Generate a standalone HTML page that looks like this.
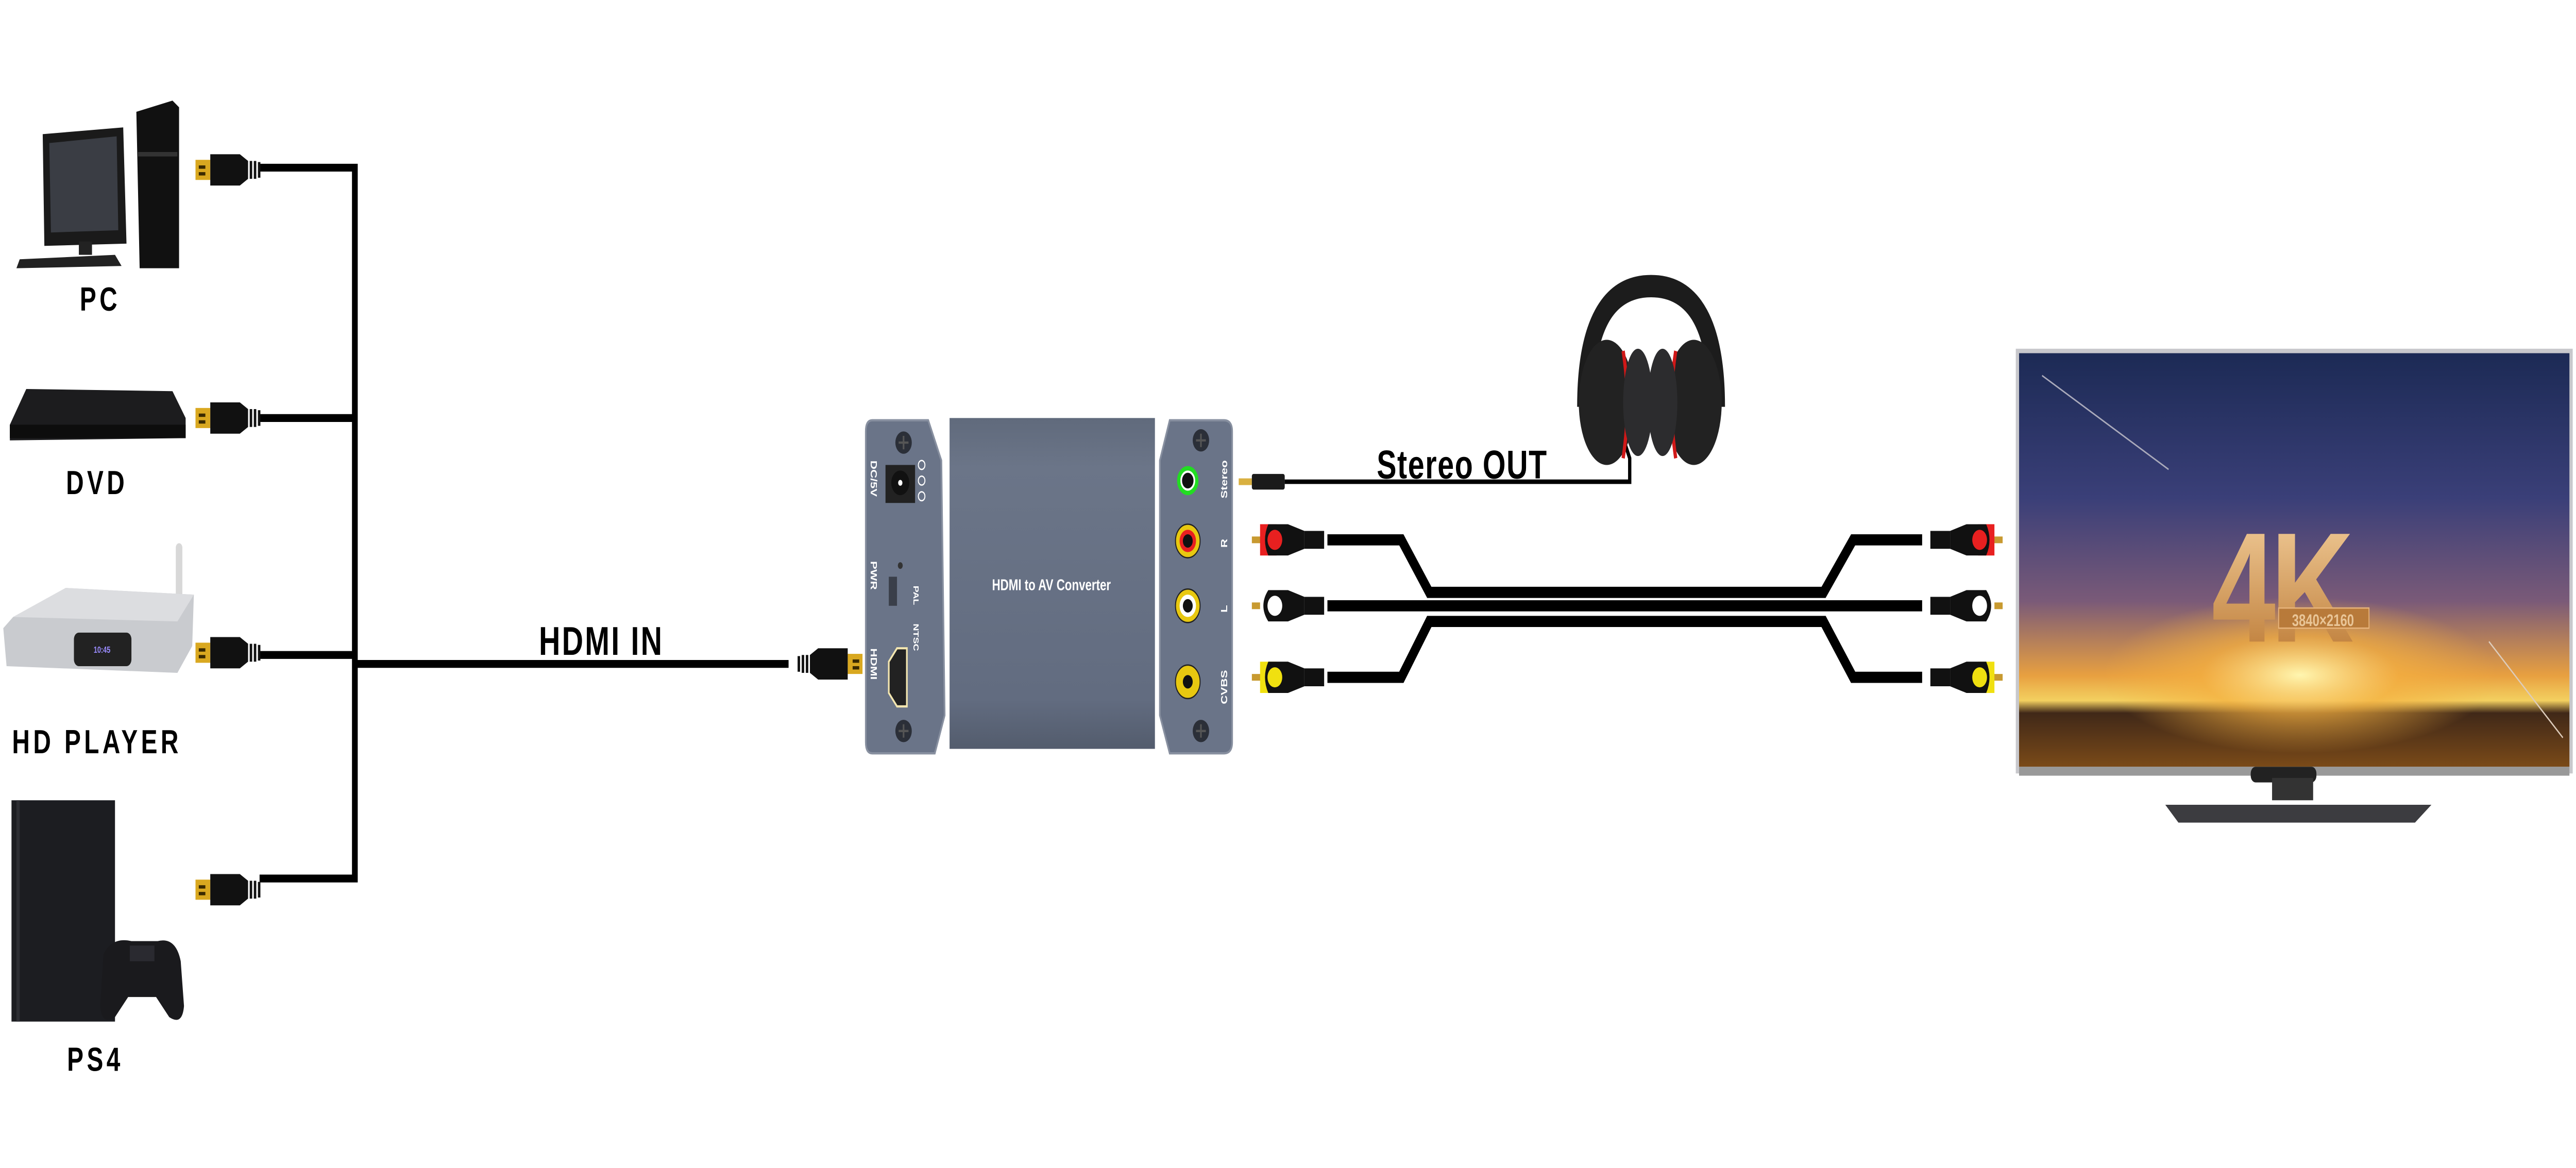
<!DOCTYPE html>
<html><head><meta charset="utf-8"><style>
html,body{margin:0;padding:0;background:#fff;width:100vw;height:100vh;overflow:hidden;}
svg{display:block;position:absolute;left:0;top:0;width:100vw;height:100vh;}
text{font-family:"Liberation Sans",sans-serif;font-weight:bold;}
</style></head><body>
<svg viewBox="0 0 1568 522.5" preserveAspectRatio="none" xmlns="http://www.w3.org/2000/svg">
<defs>
<linearGradient id="box" x1="0" y1="0" x2="0" y2="1"><stop offset="0" stop-color="#606a7c"/><stop offset="0.15" stop-color="#6b7588"/><stop offset="0.85" stop-color="#626c80"/><stop offset="1" stop-color="#535c6d"/></linearGradient>
<linearGradient id="scr" x1="0" y1="0" x2="0" y2="1"><stop offset="0" stop-color="#1c2a55"/><stop offset="0.35" stop-color="#3a3f78"/><stop offset="0.6" stop-color="#7a5a78"/><stop offset="0.78" stop-color="#e8a040"/><stop offset="0.84" stop-color="#f3d060"/><stop offset="0.87" stop-color="#402818"/><stop offset="1" stop-color="#7a4a18"/></linearGradient>
<radialGradient id="glow" cx="0.5" cy="0.5" r="0.5"><stop offset="0" stop-color="#fff6b0"/><stop offset="0.5" stop-color="#f5b040" stop-opacity="0.7"/><stop offset="1" stop-color="#f5b040" stop-opacity="0"/></radialGradient>
<linearGradient id="gold4k" x1="0" y1="0" x2="0" y2="1"><stop offset="0" stop-color="#f5d2a0"/><stop offset="1" stop-color="#b8742e"/></linearGradient>
<g id="hdmi">
<rect x="0" y="-4.5" width="9" height="9" fill="#d9a820"/><rect x="2" y="-2" width="4" height="1.5" fill="#3a2a00"/><rect x="2" y="1" width="4" height="1.5" fill="#3a2a00"/>
<path d="M9,-7 H27 L32,-4 V4 L27,7 H9 Z" fill="#111"/>
<rect x="33" y="-4" width="1.5" height="8" fill="#111"/><rect x="35.5" y="-4" width="1.5" height="8" fill="#111"/><rect x="38" y="-3.5" width="1.5" height="7" fill="#111"/>
</g>
<g id="screw"><circle r="5" fill="#2b2f38"/><path d="M-3,0 H3 M0,-3 V3" stroke="#555" stroke-width="1"/></g>
</defs>

<!-- PC -->
<g>
<path d="M26,60 L75,57 L77,109 L27,110 Z" fill="#1a1a1a"/>
<path d="M30,64 L71,61 L72,103 L31,104 Z" fill="#3a3d44"/>
<rect x="48" y="108" width="8" height="6" fill="#222"/>
<path d="M12,116 L70,114 L74,119 L10,120 Z" fill="#222"/>
<path d="M83,50 L105,45 L109,48 L109,120 L85,120 Z" fill="#111"/>
<rect x="84" y="68" width="24" height="2" fill="#333"/>
</g>
<text x="61" y="139" font-size="15" text-anchor="middle" letter-spacing="2">PC</text>

<!-- DVD -->
<path d="M16,174 L105,175 L113,187 L113,196 L6,197 L6,190 Z" fill="#1c1c1e"/>
<rect x="6" y="190" width="107" height="6" fill="#0d0d0d"/>
<text x="59" y="221" font-size="15" text-anchor="middle" letter-spacing="2">DVD</text>

<!-- HD player -->
<rect x="107" y="243" width="4" height="40" rx="2" fill="#d8d8d8"/>
<path d="M8,276 L40,263 L118,266 L117,289 L108,301 L4,298 L2,281 Z" fill="#c9cbcf"/>
<path d="M8,276 L40,263 L118,266 L108,278 Z" fill="#dcdde0"/>
<rect x="45" y="283" width="35" height="15" rx="3" fill="#222"/>
<text x="57" y="292" font-size="4" fill="#9a8cff" font-weight="normal">10:45</text>
<text x="59" y="337" font-size="15" text-anchor="middle" letter-spacing="2">HD PLAYER</text>

<!-- PS4 -->
<rect x="7" y="358" width="63" height="99" fill="#1c1d21"/>
<rect x="10" y="358" width="2" height="99" fill="#2c2d32"/>
<path d="M63,427 Q68,419 80,421 L96,421 Q107,419 110,430 L112,450 Q111,459 103,455 L95,446 L78,446 L70,455 Q62,459 61,450 Z" fill="#1a1a1d"/>
<rect x="79" y="423" width="15" height="7" fill="#2a2a30"/>
<text x="58" y="479" font-size="15" text-anchor="middle" letter-spacing="2">PS4</text>

<!-- HDMI bus -->
<g stroke="#000" stroke-width="3.5" fill="none">
<path d="M158,75 H216 V393 H158"/>
<path d="M158,187 H216"/>
<path d="M158,293 H216"/>
<path d="M216,297 H480"/>
</g>
<use href="#hdmi" x="119" y="76"/>
<use href="#hdmi" x="119" y="187"/>
<use href="#hdmi" x="119" y="292"/>
<use href="#hdmi" x="119" y="398"/>
<g transform="translate(525,297) scale(-1,1)"><use href="#hdmi"/></g>
<text x="366" y="293" font-size="18" text-anchor="middle" letter-spacing="1">HDMI IN</text>

<!-- converter left panel -->
<path d="M531,188 H565 L573,206 L575,320 L569,337 H531 Q527,337 527,332 V193 Q527,188 531,188 Z" fill="#6a7488" stroke="#8890a0" stroke-width="1"/>
<use href="#screw" x="550" y="198"/>
<use href="#screw" x="550" y="327"/>
<rect x="539" y="208" width="18" height="17" fill="#222"/><circle cx="548" cy="216" r="5.5" fill="#111"/><circle cx="548" cy="216" r="1.3" fill="#fff"/>
<circle cx="561" cy="208" r="2" fill="none" stroke="#fff" stroke-width="0.6"/><circle cx="561" cy="215" r="2" fill="none" stroke="#fff" stroke-width="0.6"/><circle cx="561" cy="222" r="2" fill="none" stroke="#fff" stroke-width="0.6"/>
<text transform="translate(530,206) rotate(90)" font-size="5.5" fill="#fff">DC/5V</text>
<text transform="translate(530,251) rotate(90)" font-size="5.5" fill="#fff">PWR</text>
<circle cx="548" cy="253" r="1.5" fill="#333"/>
<rect x="541" y="258" width="5" height="13" fill="#3a3f4a"/>
<text transform="translate(556,262) rotate(90)" font-size="4.5" fill="#fff">PAL</text>
<text transform="translate(556,279) rotate(90)" font-size="4.5" fill="#fff">NTSC</text>
<path d="M541,296 L546,290 H552 V316 H546 L541,310 Z" fill="#222" stroke="#f3e6b0" stroke-width="1"/>
<text transform="translate(530,290) rotate(90)" font-size="5.5" fill="#fff">HDMI</text>

<!-- converter middle -->
<rect x="578" y="187" width="125" height="148" fill="url(#box)"/>
<text x="640" y="264" font-size="7" fill="#fff" text-anchor="middle">HDMI to AV Converter</text>

<!-- converter right panel -->
<path d="M712,188 H745 Q750,188 750,193 V332 Q750,337 745,337 H712 L706,320 L706,206 Z" fill="#6a7488" stroke="#8890a0" stroke-width="1"/>
<use href="#screw" x="731" y="197"/>
<use href="#screw" x="731" y="327"/>
<circle cx="723" cy="215" r="5.5" fill="#fff" stroke="#22dd22" stroke-width="2"/><circle cx="723" cy="215" r="3.5" fill="#111"/>
<circle cx="723" cy="242" r="7.5" fill="#e8c810" stroke="#222" stroke-width="0.6"/><circle cx="723" cy="242" r="5" fill="#e82020"/><circle cx="723" cy="242" r="3" fill="#111"/>
<circle cx="723" cy="271" r="7.5" fill="#e8c810" stroke="#222" stroke-width="0.6"/><circle cx="723" cy="271" r="5" fill="#fff"/><circle cx="723" cy="271" r="3" fill="#111"/>
<circle cx="723" cy="305" r="7.5" fill="#e8c810" stroke="#222" stroke-width="0.6"/><circle cx="723" cy="305" r="3" fill="#111"/>
<text transform="translate(747,223) rotate(-90)" font-size="5.5" fill="#fff">Stereo</text>
<text transform="translate(747,245) rotate(-90)" font-size="5.5" fill="#fff">R</text>
<text transform="translate(747,274) rotate(-90)" font-size="5.5" fill="#fff">L</text>
<text transform="translate(747,315) rotate(-90)" font-size="5.5" fill="#fff">CVBS</text>

<!-- stereo cable -->
<rect x="754" y="214" width="8" height="3" fill="#d9b040"/>
<rect x="762" y="212" width="20" height="7" rx="1" fill="#1a1a1a"/>
<path d="M782,215.5 H992 V205 L988,196" stroke="#000" stroke-width="2" fill="none"/>
<text x="890" y="214" font-size="18" text-anchor="middle" letter-spacing="0.5">Stereo OUT</text>

<!-- headphones -->
<path d="M965,182 Q965,128 1005,128 Q1045,128 1045,182" stroke="#1c1c1c" stroke-width="10" fill="none"/>
<ellipse cx="978" cy="180" rx="17" ry="28" fill="#222"/>
<ellipse cx="1031" cy="180" rx="17" ry="28" fill="#222"/>
<path d="M988,157 Q993,180 988,205" stroke="#d01818" stroke-width="2" fill="none"/>
<path d="M1020,157 Q1015,180 1020,205" stroke="#d01818" stroke-width="2" fill="none"/>
<ellipse cx="997" cy="180" rx="9" ry="24" fill="#2c2c2e"/>
<ellipse cx="1012" cy="180" rx="9" ry="24" fill="#2c2c2e"/>

<!-- RCA cables -->
<g stroke="#000" stroke-width="5" fill="none" stroke-linejoin="miter">
<path d="M808,241.5 H853 L870,265 H1110 L1128,241.5 H1170"/>
<path d="M808,271 H1170"/>
<path d="M808,303 H853 L870,278 H1110 L1128,303 H1170"/>
</g>
<g>
<g transform="translate(762,241.5)"><rect x="0" y="-1.5" width="6" height="3" fill="#c89a30"/><rect x="5" y="-7" width="10" height="14" fill="#e82020"/><path d="M10,-7 H22 L32,-4 V4 L22,7 H10 Q6,0 10,-7Z" fill="#111"/><circle cx="14" cy="0" r="4.5" fill="#e82020"/><rect x="32" y="-4" width="12" height="8" fill="#111"/></g>
<g transform="translate(762,271)"><rect x="0" y="-1.5" width="6" height="3" fill="#c89a30"/><rect x="5" y="-7" width="10" height="14" fill="#fff"/><path d="M10,-7 H22 L32,-4 V4 L22,7 H10 Q4,0 10,-7Z" fill="#111"/><circle cx="14" cy="0" r="4.5" fill="#fff"/><rect x="32" y="-4" width="12" height="8" fill="#111"/></g>
<g transform="translate(762,303)"><rect x="0" y="-1.5" width="6" height="3" fill="#c89a30"/><rect x="5" y="-7" width="10" height="14" fill="#f0e010"/><path d="M10,-7 H22 L32,-4 V4 L22,7 H10 Q6,0 10,-7Z" fill="#111"/><circle cx="14" cy="0" r="4.5" fill="#f0e010"/><rect x="32" y="-4" width="12" height="8" fill="#111"/></g>
<g transform="translate(1219,241.5) scale(-1,1)"><rect x="0" y="-1.5" width="6" height="3" fill="#c89a30"/><rect x="5" y="-7" width="10" height="14" fill="#e82020"/><path d="M10,-7 H22 L32,-4 V4 L22,7 H10 Q6,0 10,-7Z" fill="#111"/><circle cx="14" cy="0" r="4.5" fill="#e82020"/><rect x="32" y="-4" width="12" height="8" fill="#111"/></g>
<g transform="translate(1219,271) scale(-1,1)"><rect x="0" y="-1.5" width="6" height="3" fill="#c89a30"/><rect x="5" y="-7" width="10" height="14" fill="#fff"/><path d="M10,-7 H22 L32,-4 V4 L22,7 H10 Q4,0 10,-7Z" fill="#111"/><circle cx="14" cy="0" r="4.5" fill="#fff"/><rect x="32" y="-4" width="12" height="8" fill="#111"/></g>
<g transform="translate(1219,303) scale(-1,1)"><rect x="0" y="-1.5" width="6" height="3" fill="#c89a30"/><rect x="5" y="-7" width="10" height="14" fill="#f0e010"/><path d="M10,-7 H22 L32,-4 V4 L22,7 H10 Q6,0 10,-7Z" fill="#111"/><circle cx="14" cy="0" r="4.5" fill="#f0e010"/><rect x="32" y="-4" width="12" height="8" fill="#111"/></g>
</g>

<!-- TV -->
<rect x="1227" y="156" width="339" height="190" fill="#c8c8cc"/>
<rect x="1229" y="158" width="335" height="185" fill="url(#scr)"/>
<ellipse cx="1400" cy="302" rx="120" ry="35" fill="url(#glow)"/>
<path d="M1243,168 L1320,210" stroke="#aab" stroke-width="0.7"/>
<path d="M1515,287 L1560,330" stroke="#dcb" stroke-width="0.7"/>
<text x="1388" y="287" font-size="70" fill="url(#gold4k)" text-anchor="middle" letter-spacing="-3">4K</text>
<rect x="1387" y="272" width="55" height="9" fill="#b87a3a" stroke="#e7b37a" stroke-width="0.6"/>
<text x="1414" y="280" font-size="7.5" fill="#e9c597" text-anchor="middle" font-weight="normal">3840×2160</text>
<rect x="1229" y="343" width="335" height="4" fill="#999"/>
<rect x="1370" y="343" width="40" height="7" rx="3" fill="#222"/>
<rect x="1383" y="348" width="25" height="10" fill="#333"/>
<path d="M1318,360 L1480,360 L1470,368 L1326,368 Z" fill="#3c3c40"/>
</svg>
</body></html>
